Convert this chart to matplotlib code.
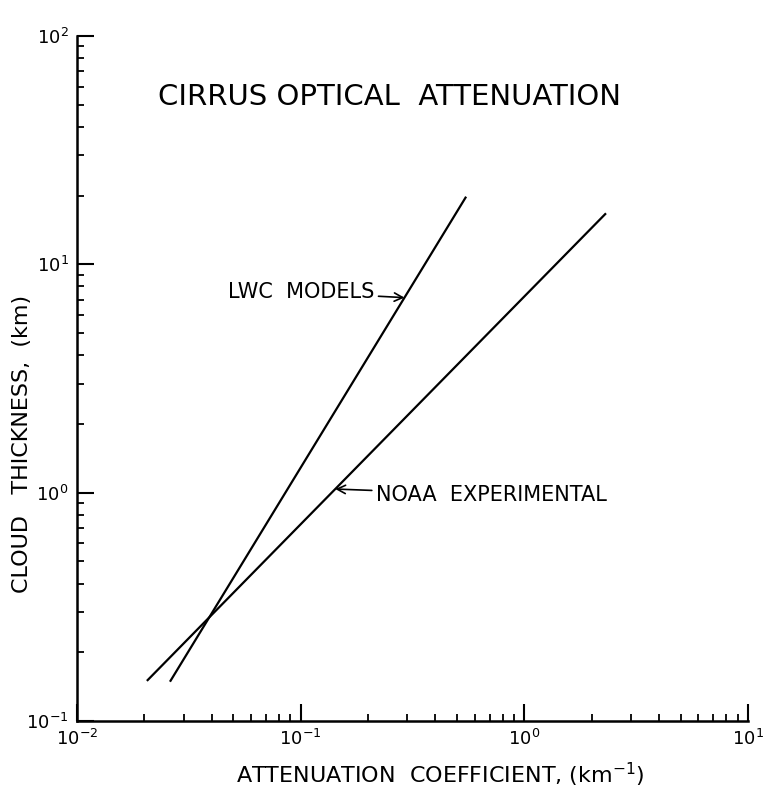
import numpy as np
import matplotlib
matplotlib.use("Agg")
import matplotlib.pyplot as plt
import matplotlib.ticker as mticker

# end points
lwcX = [0.0262, 0.546]
lwcY = [0.150, 19.6]
noaaX = [0.0207, 2.30]
noaaY = [0.151, 16.6]

xLim = [1e-2, 1e1]
yLim = [1e-1, 1e2]


def pointOnLine(xs, ys, frac):
    lx = np.log10(xs)
    ly = np.log10(ys)
    return 10 ** (lx[0] + frac * (lx[1] - lx[0])), 10 ** (ly[0] + frac * (ly[1] - ly[0]))


plt.rcParams["font.family"] = ["DejaVu Sans"]

fig = plt.figure(figsize=(7.63, 7.97), dpi=100)
ax = fig.add_axes([0.1009, 0.0954, 0.8794, 0.8594])

ax.plot(lwcX, lwcY, color="black", linewidth=1.6)
ax.plot(noaaX, noaaY, color="black", linewidth=1.6)

ax.set_xscale("log")
ax.set_yscale("log")
ax.set_xlim(xLim)
ax.set_ylim(yLim)

for side in ["top", "right"]:
    ax.spines[side].set_visible(False)
for side in ["left", "bottom"]:
    ax.spines[side].set_linewidth(1.8)

ax.xaxis.set_major_locator(mticker.LogLocator(base=10, numticks=10))
ax.yaxis.set_major_locator(mticker.LogLocator(base=10, numticks=10))
ax.xaxis.set_minor_locator(mticker.LogLocator(base=10, subs=np.arange(2, 10), numticks=20))
ax.yaxis.set_minor_locator(mticker.LogLocator(base=10, subs=np.arange(2, 10), numticks=20))
ax.xaxis.set_minor_formatter(mticker.NullFormatter())
ax.yaxis.set_minor_formatter(mticker.NullFormatter())

ax.tick_params(which="major", direction="in", length=12, width=1.5, labelsize=13, pad=6)
ax.tick_params(which="minor", direction="in", length=5, width=1.3)

ax.set_xlabel("ATTENUATION  COEFFICIENT, (km$^{-1}$)", fontsize=16, va="center")
ax.set_ylabel("CLOUD   THICKNESS,  (km)", fontsize=16, va="center")
ax.xaxis.set_label_coords(0.542, -0.079)
ax.yaxis.set_label_coords(-0.082, 0.405)

ax.text(0.466, 0.911, "CIRRUS OPTICAL  ATTENUATION", transform=ax.transAxes,
        ha="center", va="center", fontsize=21)

lwcTip = pointOnLine(lwcX, lwcY, 0.793)
noaaTip = pointOnLine(noaaX, noaaY, 0.41)

ax.annotate("LWC  MODELS", xy=lwcTip, xytext=(0.225, 0.626),
            textcoords="axes fraction", ha="left", va="center", fontsize=15,
            arrowprops=dict(arrowstyle="->", color="black", linewidth=1.2,
                            shrinkA=1, shrinkB=0))
ax.annotate("NOAA  EXPERIMENTAL", xy=noaaTip, xytext=(0.4456, 0.33),
            textcoords="axes fraction", ha="left", va="center", fontsize=15,
            arrowprops=dict(arrowstyle="->", color="black", linewidth=1.2,
                            shrinkA=1, shrinkB=0))

plt.savefig("out.png", dpi=100)
